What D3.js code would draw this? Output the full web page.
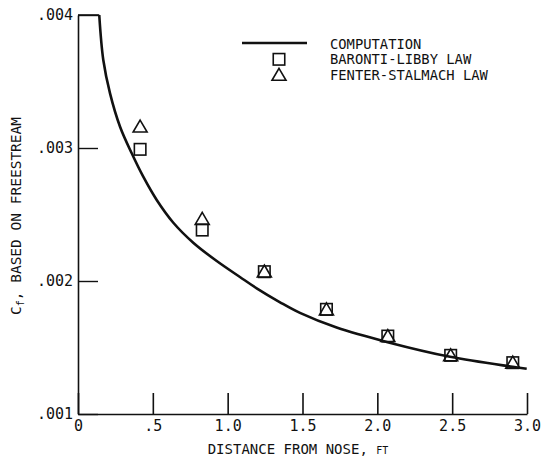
<!DOCTYPE html>
<html><head><meta charset="utf-8">
<script src="https://cdn.jsdelivr.net/npm/d3@7"></script>
<style>
body{margin:0;background:#fff}
text{font-family:"DejaVu Sans Mono",monospace;fill:#111}
</style>
</head><body>
<svg id="c" width="541" height="465"></svg>
<script>
// ---- data ----
const curveX = [0.142, 0.169, 0.214, 0.281, 0.359, 0.436, 0.526, 0.637, 0.770, 0.927, 1.082, 1.194, 1.35, 1.483, 1.728, 2.069, 2.486, 2.904, 2.998];
const curveY = [0.004, 0.003662, 0.003411, 0.00316, 0.00296, 0.002784, 0.002609, 0.002438, 0.002288, 0.00215, 0.00203, 0.001945, 0.00184, 0.00176, 0.00165, 0.00154, 0.00143, 0.001355, 0.00134];
const pointX = [0.415, 0.83, 1.245, 1.66, 2.07, 2.49, 2.905];
const baronti = [0.00299, 0.002383, 0.00207, 0.001787, 0.001586, 0.001441, 0.001386];
const fenter  = [0.003165, 0.002471, 0.002075, 0.00179, 0.00159, 0.001445, 0.00139];
const topEdgeX = [0, 0.142];
const xTicks = [0, 0.5, 1.0, 1.5, 2.0, 2.5, 3.0];
const xTickLabels = ["0", ".5", "1.0", "1.5", "2.0", "2.5", "3.0"];
const yTicks = [0.001, 0.002, 0.003, 0.004];
const yTickLabels = [".001", ".002", ".003", ".004"];
const legendLabels = ["COMPUTATION", "BARONTI-LIBBY LAW", "FENTER-STALMACH LAW"];

const svg = d3.select("#c");
const x = d3.scaleLinear().domain([0, 3]).range([78, 527]);
const y = d3.scaleLinear().domain([0.001, 0.004]).range([414, 15]);
const ink = "#111";

// x axis
const xAxis = d3.axisBottom(x).tickValues(xTicks)
  .tickFormat((d, i) => xTickLabels[i]).tickSizeInner(-21).tickSizeOuter(0).tickPadding(6);
const gx = svg.append("g").attr("transform", `translate(0,${y(0.001)})`).call(xAxis);
gx.select(".domain").attr("stroke", ink).attr("stroke-width", 1.6);
gx.selectAll(".tick line").attr("stroke", ink).attr("stroke-width", 1.6);
gx.selectAll(".tick text").attr("font-size", 15).attr("fill", ink)
  .style("font-family", '"DejaVu Sans Mono",monospace');

// y axis
const yAxis = d3.axisLeft(y).tickValues(yTicks)
  .tickFormat((d, i) => yTickLabels[i]).tickSizeInner(-20).tickSizeOuter(0).tickPadding(5);
const gy = svg.append("g").attr("transform", `translate(${x(0)},0)`).call(yAxis);
gy.select(".domain").attr("stroke", ink).attr("stroke-width", 1.6);
gy.selectAll(".tick line").attr("stroke", ink).attr("stroke-width", 1.4);
gy.selectAll(".tick text").attr("font-size", 15).attr("fill", ink)
  .style("font-family", '"DejaVu Sans Mono",monospace');

// top edge segment
svg.append("path")
  .attr("d", d3.line().x(d => x(d)).y(() => y(0.004))(topEdgeX))
  .attr("stroke", ink).attr("stroke-width", 1.6).attr("fill", "none");

// computation curve
const curvePts = curveX.map((d, i) => [d, curveY[i]]);
svg.append("path")
  .attr("d", d3.line().x(d => x(d[0])).y(d => y(d[1])).curve(d3.curveCatmullRom.alpha(0.5))(curvePts))
  .attr("stroke", ink).attr("stroke-width", 2.6).attr("fill", "none");

// markers
const sq = 11.5;
function square(g, cx, cy) {
  g.append("rect").attr("x", cx - sq / 2).attr("y", cy - sq / 2)
    .attr("width", sq).attr("height", sq)
    .attr("fill", "none").attr("stroke", ink).attr("stroke-width", 1.6);
}
function tri(g, cx, cy) {
  const w = 7, h = 6;
  g.append("path").attr("d", `M${cx},${cy - h}L${cx + w},${cy + h}L${cx - w},${cy + h}Z`)
    .attr("fill", "none").attr("stroke", ink).attr("stroke-width", 1.6).attr("stroke-linejoin", "miter");
}
const gm = svg.append("g");
pointX.forEach((d, i) => square(gm, x(d), y(baronti[i])));
pointX.forEach((d, i) => tri(gm, x(d), y(fenter[i])));

// legend
const lg = svg.append("g");
lg.append("line").attr("x1", 242).attr("x2", 307).attr("y1", 43).attr("y2", 43)
  .attr("stroke", ink).attr("stroke-width", 2.6);
square(lg, 279, 59.3);
tri(lg, 279, 74.3);
legendLabels.forEach((t, i) => {
  lg.append("text").attr("x", 330).attr("y", 48.5 + i * 15.8)
    .attr("font-size", 13.8).text(t);
});

// x title
const xt = svg.append("text").attr("x", 298).attr("y", 454).attr("text-anchor", "middle")
  .attr("font-size", 14);
xt.append("tspan").text("DISTANCE FROM NOSE, ");
xt.append("tspan").attr("font-size", 10).text("FT");

// y title
const yt = svg.append("text").attr("transform", "translate(21,216) rotate(-90)")
  .attr("text-anchor", "middle").attr("font-size", 14.5);
yt.append("tspan").text("C");
yt.append("tspan").attr("font-size", 10).attr("dy", 3).text("f");
yt.append("tspan").attr("dy", -3).text(", BASED ON FREESTREAM");
</script>
</body></html>
